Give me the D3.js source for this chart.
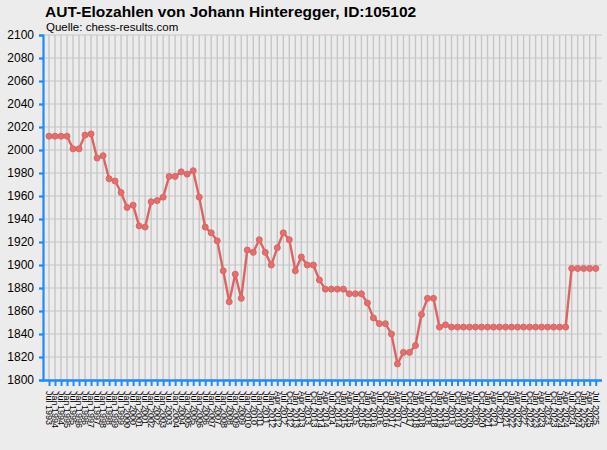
<!DOCTYPE html>
<html><head><meta charset="utf-8">
<script src="https://cdn.jsdelivr.net/npm/d3@7"></script>
<style>
html,body{margin:0;padding:0;background:#ececec;}
svg{display:block;font-family:"Liberation Sans",Arial,sans-serif;}
</style></head>
<body>
<svg id="c" width="607" height="450"></svg>
<script>
// Rating lists: semiannual Jul 1993 .. Jul 2011, then quarterly Jan 2012 .. Jul 2025
const semiannualMonths = ["Jan","Jul"];
const quarterlyMonths = ["Jan","Apr","Jul","Oct"];
const labels = [];
for (let y = 1993; y <= 2011; y++) for (const m of semiannualMonths) {
  if (y === 1993 && m === "Jan") continue;
  labels.push(m + " " + y);
}
for (let y = 2012; y <= 2025; y++) for (const m of quarterlyMonths) {
  if (y === 2025 && m === "Oct") continue;
  labels.push(m + " " + y);
}
const ratings = [
  2012,2012,2012,2012,2001,2001,2013,2014,1993,1995,
  1975,1973,1963,1950,1952,1934,1933,1955,1956,1959,
  1977,1977,1981,1979,1982,1959,1933,1928,1921,1895,
  1868,1892,1871,1913,1911,1922,1911,1900,1915,1928,
  1922,1895,1907,1900,1900,1887,1879,1879,1879,1879,
  1875,1875,1875,1867,1854,1849,1849,1840,1814,1824,
  1824,1830,1857,1871,1871,1846,1848,1846,1846,1846,
  1846,1846,1846,1846,1846,1846,1846,1846,1846,1846,
  1846,1846,1846,1846,1846,1846,1846,1897,1897,1897,
  1897,1897
];
const yTicks = d3.range(1800, 2101, 20);
const title = "AUT-Elozahlen von Johann Hinteregger, ID:105102";
const subtitle = "Quelle: chess-results.com";

const svg = d3.select("#c");
const L = 43, R = 602, T = 35, B = 380;
const x = d3.scalePoint().domain(labels).range([49, 595.7]);
const y = d3.scaleLinear().domain([1800, 2100]).range([B, T]);

// grid
const g = svg.append("g");
g.selectAll("line.h").data(yTicks).join("line")
  .attr("x1", L).attr("x2", R).attr("y1", d => y(d)).attr("y2", d => y(d))
  .attr("stroke", "#c6c6c6").attr("stroke-width", 1.2);
g.selectAll("line.v").data(labels).join("line")
  .attr("x1", d => x(d)).attr("x2", d => x(d)).attr("y1", T).attr("y2", B)
  .attr("stroke", "#c6c6c6").attr("stroke-width", 1.4);

// y axis
const ya = svg.append("g").attr("transform", `translate(${L},0)`)
  .call(d3.axisLeft(y).tickValues(yTicks).tickSize(4).tickPadding(5).tickFormat(d3.format("d")));
ya.select(".domain").attr("stroke", "#1e8cff").attr("stroke-width", 2.2);
ya.selectAll(".tick line").attr("stroke", "#1e8cff").attr("stroke-width", 2.2);
ya.selectAll(".tick text").attr("font-size", 12).attr("fill", "#000")
  .attr("font-family", "Liberation Sans, Arial, sans-serif");

// x axis
const xa = svg.append("g").attr("transform", `translate(0,${B})`)
  .call(d3.axisBottom(x).tickSize(6).tickSizeOuter(0));
xa.select(".domain").attr("d", `M${L},0.5H${R}`).attr("stroke", "#1e8cff").attr("stroke-width", 2.4);
xa.selectAll(".tick line").attr("stroke", "#1e8cff").attr("stroke-width", 2);
xa.selectAll(".tick text")
  .attr("font-size", 9).attr("fill", "#000")
  .attr("font-family", "Liberation Sans, Arial, sans-serif")
  .attr("text-anchor", "start")
  .attr("transform", "rotate(90)")
  .attr("x", 11).attr("y", 0).attr("dy", "0.35em");

// line + points
const data = labels.map((l, i) => ({l, v: ratings[i]}));
svg.append("path").datum(data)
  .attr("fill", "none").attr("stroke", "#dd6464").attr("stroke-width", 2.4)
  .attr("d", d3.line().x(d => x(d.l)).y(d => y(d.v)));
svg.selectAll("circle.p").data(data).join("circle")
  .attr("cx", d => x(d.l)).attr("cy", d => y(d.v)).attr("r", 3)
  .attr("fill", "#e07070").attr("stroke", "#dd6464").attr("stroke-width", 1);

// titles
svg.append("text").attr("x", 45).attr("y", 17).attr("font-size", 15.5).attr("font-weight", "bold")
  .attr("fill", "#000").text(title);
svg.append("text").attr("x", 46).attr("y", 31).attr("font-size", 11.5)
  .attr("fill", "#000").text(subtitle);
</script>
</body></html>
